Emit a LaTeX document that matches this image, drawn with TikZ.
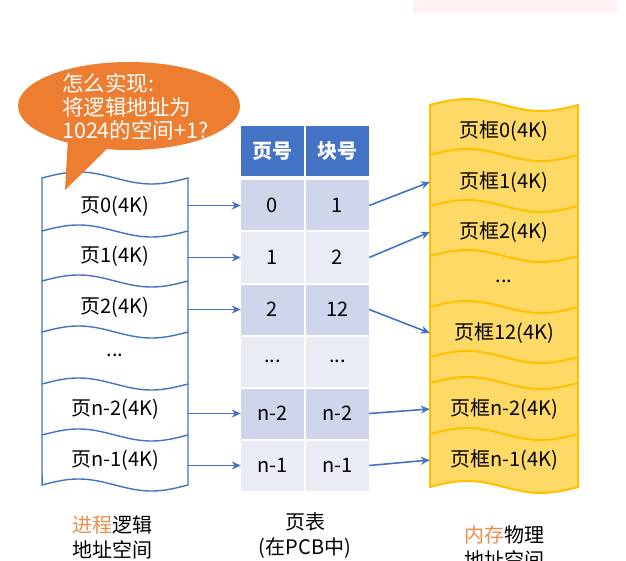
\documentclass[tikz,border=0pt]{standalone}
\usepackage{fontspec}
\setmainfont{Noto Sans CJK SC}
\usetikzlibrary{arrows.meta,shapes.geometric}
\definecolor{pblue}{HTML}{4472C4}
\definecolor{rowdark}{HTML}{CFD5EA}
\definecolor{rowlight}{HTML}{E9EBF5}
\definecolor{orng}{HTML}{ED7D31}
\definecolor{lorange}{HTML}{EA8E4F}
\definecolor{yfill}{HTML}{FFD966}
\definecolor{ystroke}{HTML}{FFC000}
\definecolor{pinkbg}{HTML}{FFF2F0}
\begin{document}
\begin{tikzpicture}[x=1pt,y=-1pt,
  txtbox/.style={font=\fontsize{20}{25}\selectfont, inner sep=0pt},
  lrowbox/.style={txtbox, minimum width=146pt, minimum height=40pt},
  cellbox/.style={txtbox, minimum width=63pt, minimum height=50pt},
  hcellbox/.style={cellbox, fill=pblue, text=white, font=\fontsize{20}{25}\selectfont\bfseries},
  dcellbox/.style={cellbox, fill=rowdark},
  lcellbox/.style={cellbox, fill=rowlight},
  frmbox/.style={txtbox, minimum width=148pt, minimum height=40pt},
  link/.style={draw=pblue, line width=1.6pt, -{Stealth[length=9pt,width=8pt]}},
]
\useasboundingbox (0,0) rectangle (626,561);
\clip (0,0) rectangle (626,561);
\fill[white] (0,0) rectangle (626,561);
\fill[pinkbg] (413,0) rectangle (617,13);

% left column (process logical address space)
\fill[white] plot[domain=0:1,samples=50] ({42+146*\x},{178-6*sin(360*\x)})
  -- plot[domain=1:0,samples=50] ({42+146*\x},{485-6*sin(360*\x)}) -- cycle;
\draw[pblue, line width=1.4pt] plot[domain=0:1,samples=50] ({42+146*\x},{178-6*sin(360*\x)})
  -- plot[domain=1:0,samples=50] ({42+146*\x},{485-6*sin(360*\x)}) -- cycle;
\foreach \yy in {231,281,332,384,435}
  \draw[pblue, line width=1.4pt] plot[domain=0:1,samples=50] ({42+146*\x},{\yy-6*sin(360*\x)});

\node[lrowbox] (l0) at (115,206) {页0(4K)};
\node[lrowbox] (l1) at (115,256) {页1(4K)};
\node[lrowbox] (l2) at (115,307) {页2(4K)};
\node[lrowbox] (ld) at (115,355) {...};
\node[lrowbox] (ln2) at (115,409) {页n-2(4K)};
\node[lrowbox] (ln1) at (115,460) {页n-1(4K)};

% speech bubble
\node[ellipse, fill=orng, minimum width=222pt, minimum height=88pt, inner sep=0pt] (bubble) at (129,106) {};
\fill[orng] (68,138) -- (65,190) -- (110,146) -- cycle;
\node[anchor=west, align=left, text=white, inner sep=0pt,
  font=\fontsize{21.5}{23.5}\selectfont] (btext) at (62,107)
  {怎么实现:\\将逻辑地址为\\1024的空间+1?};

% page table
\node[hcellbox] (ha) at (272.5,151.5) {页号};
\node[hcellbox] (hb) at (337.5,151.5) {块号};
\node[dcellbox] (c0a) at (272.5,205.5) {0};
\node[dcellbox] (c0b) at (337.5,205.5) {1};
\node[lcellbox] (c1a) at (272.5,257.5) {1};
\node[lcellbox] (c1b) at (337.5,257.5) {2};
\node[dcellbox] (c2a) at (272.5,309.5) {2};
\node[dcellbox] (c2b) at (337.5,309.5) {12};
\node[lcellbox] (cda) at (272.5,361.5) {...};
\node[lcellbox] (cdb) at (337.5,361.5) {...};
\node[dcellbox] (cn2a) at (272.5,413.5) {n-2};
\node[dcellbox] (cn2b) at (337.5,413.5) {n-2};
\node[lcellbox] (cn1a) at (272.5,465.5) {n-1};
\node[lcellbox] (cn1b) at (337.5,465.5) {n-1};

% right column (physical memory)
\fill[yfill] plot[domain=0:1,samples=50] ({430+148*\x},{105-6*sin(360*\x)})
  -- plot[domain=1:0,samples=50] ({430+148*\x},{487-6*sin(360*\x)}) -- cycle;
\draw[ystroke, line width=2pt] plot[domain=0:1,samples=50] ({430+148*\x},{105-6*sin(360*\x)})
  -- plot[domain=1:0,samples=50] ({430+148*\x},{487-6*sin(360*\x)}) -- cycle;
\foreach \yy in {155,206,256,307,357,383,434}
  \draw[ystroke, line width=2pt] plot[domain=0:1,samples=50] ({430+148*\x},{\yy-6*sin(360*\x)});

\node[frmbox] (f0) at (504,131) {页框0(4K)};
\node[frmbox] (f1) at (504,182) {页框1(4K)};
\node[frmbox] (f2) at (504,232) {页框2(4K)};
\node[frmbox] (fd) at (504,281) {...};
\node[frmbox] (f12) at (504,333) {页框12(4K)};
\node[frmbox] (fn2) at (504,409) {页框n-2(4K)};
\node[frmbox] (fn1) at (504,460) {页框n-1(4K)};

% arrows
\draw[link] (l0.east |- c0a.west) -- (c0a.west);
\draw[link] (l1.east |- c1a.west) -- (c1a.west);
\draw[link] (l2.east |- c2a.west) -- (c2a.west);
\draw[link] (ln2.east |- cn2a.west) -- (cn2a.west);
\draw[link] (ln1.east |- cn1a.west) -- (cn1a.west);
\draw[link] (c0b.east) -- (f1.west);
\draw[link] (c1b.east) -- (f2.west);
\draw[link] (c2b.east) -- (f12.west);
\draw[link] (cn2b.east) -- (fn2.west);
\draw[link] (cn1b.east) -- (fn1.west);

% bottom labels
\node[txtbox, align=center] (lblL) at (112,537) {{\color{lorange}进程}逻辑\\地址空间};
\node[txtbox, align=center] (lblM) at (305,536) {页表\\(在PCB中)};
\node[txtbox, align=center] (lblR) at (504,547) {{\color{lorange}内存}物理\\地址空间};
\end{tikzpicture}
\end{document}
